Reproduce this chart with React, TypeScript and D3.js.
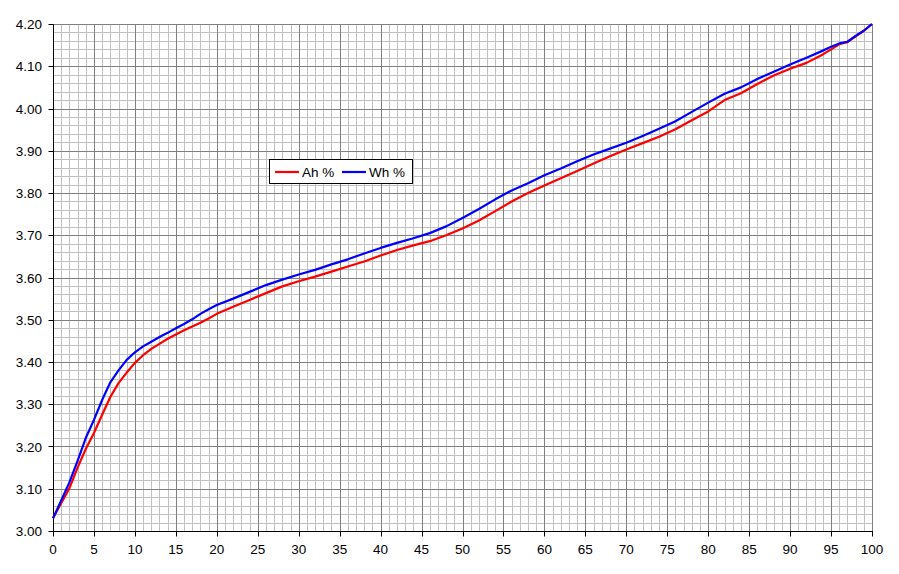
import React, { useEffect, useRef } from 'react';
import * as d3 from 'd3';

// state of charge (%) against cell voltage
const pct = [0, 1, 2, 3, 4, 5, 6, 7, 8, 9, 10, 11, 12, 13, 14, 15, 16, 17, 18, 19, 20, 22, 24, 26, 28, 30, 32, 34, 36, 38, 40, 42, 44, 46, 48, 50, 52, 54, 56, 58, 60, 62, 64, 66, 68, 70, 72, 74, 76, 78, 80, 82, 84, 86, 88, 90, 92, 94, 95, 96, 97, 98, 99, 100];

const ahVolts = [3.030, 3.066, 3.101, 3.150, 3.194, 3.232, 3.275, 3.317, 3.350, 3.375, 3.398, 3.416, 3.431, 3.443, 3.455, 3.465, 3.475, 3.484, 3.493, 3.503, 3.514, 3.531, 3.547, 3.563, 3.579, 3.591, 3.602, 3.614, 3.626, 3.638, 3.652, 3.665, 3.676, 3.686, 3.700, 3.716, 3.735, 3.757, 3.780, 3.800, 3.818, 3.835, 3.852, 3.870, 3.887, 3.903, 3.918, 3.933, 3.951, 3.972, 3.993, 4.020, 4.036, 4.058, 4.078, 4.094, 4.108, 4.128, 4.140, 4.152, 4.157, 4.171, 4.184, 4.200];

const whVolts = [3.030, 3.072, 3.115, 3.166, 3.220, 3.263, 3.310, 3.352, 3.380, 3.405, 3.423, 3.437, 3.448, 3.459, 3.469, 3.480, 3.490, 3.501, 3.514, 3.525, 3.535, 3.550, 3.566, 3.582, 3.595, 3.607, 3.618, 3.631, 3.643, 3.657, 3.670, 3.682, 3.693, 3.705, 3.721, 3.741, 3.762, 3.785, 3.806, 3.823, 3.842, 3.858, 3.875, 3.891, 3.905, 3.919, 3.935, 3.952, 3.970, 3.992, 4.014, 4.035, 4.050, 4.070, 4.087, 4.104, 4.120, 4.137, 4.146, 4.154, 4.158, 4.172, 4.184, 4.200];

const seriesNames = ['Ah %', 'Wh %'];
const seriesColors = ['#ff0000', '#0000ff'];

const xTicks = d3.range(0, 101, 5);
const yTicks = d3.range(0, 13).map(i => 3 + i * 0.1);

export default function App() {
  const ref = useRef<SVGSVGElement>(null);

  useEffect(() => {
    if (!ref.current) return;
    const svg = d3.select(ref.current);
    svg.selectAll('*').remove();

    const x = d3.scaleLinear().domain([0, 100]).range([53, 872]);
    const y = d3.scaleLinear().domain([3, 4.2]).range([531, 24]);
    const px = (v: number) => Math.round(x(v)) + 0.5;
    const py = (v: number) => Math.round(y(v)) + 0.5;

    const grid = svg.append('g');
    // minor grid
    d3.range(0, 101, 1).filter(v => v % 5 !== 0).forEach(v => {
      grid.append('line').attr('x1', px(v)).attr('x2', px(v)).attr('y1', 24).attr('y2', 531)
        .attr('stroke', '#c0c0c0');
    });
    d3.range(0, 61, 1).filter(v => v % 5 !== 0).forEach(i => {
      const v = 3 + i * 0.02;
      grid.append('line').attr('y1', py(v)).attr('y2', py(v)).attr('x1', 53).attr('x2', 872)
        .attr('stroke', '#c0c0c0');
    });
    // major grid
    xTicks.forEach(v => {
      grid.append('line').attr('x1', px(v)).attr('x2', px(v)).attr('y1', 24).attr('y2', 531)
        .attr('stroke', '#808080');
    });
    yTicks.forEach(v => {
      grid.append('line').attr('y1', py(v)).attr('y2', py(v)).attr('x1', 53).attr('x2', 873)
        .attr('stroke', '#808080');
    });

    // axes
    const axes = svg.append('g').attr('stroke', '#000');
    axes.append('line').attr('x1', px(0)).attr('x2', px(0)).attr('y1', py(4.2)).attr('y2', py(3));
    axes.append('line').attr('x1', px(0)).attr('x2', px(100) + 0.5).attr('y1', py(3)).attr('y2', py(3));
    yTicks.forEach(v => {
      axes.append('line').attr('x1', px(0) - 5).attr('x2', px(0)).attr('y1', py(v)).attr('y2', py(v));
    });
    xTicks.forEach(v => {
      axes.append('line').attr('x1', px(v)).attr('x2', px(v)).attr('y1', py(3)).attr('y2', py(3) + 5);
    });

    const labels = svg.append('g')
      .attr('font-family', 'Arial, "Liberation Sans", sans-serif')
      .attr('font-size', 13.5)
      .attr('fill', '#000');
    yTicks.forEach(v => {
      labels.append('text').attr('x', 42).attr('y', y(v) + 5).attr('text-anchor', 'end')
        .text(v.toFixed(2));
    });
    xTicks.forEach(v => {
      labels.append('text').attr('x', x(v)).attr('y', 554).attr('text-anchor', 'middle')
        .text(String(v));
    });

    // series
    const line = d3.line<number>().x((_, i) => x(pct[i])).y(d => y(d));
    [ahVolts, whVolts].forEach((vals, i) => {
      svg.append('path').attr('d', line(vals) as string)
        .attr('fill', 'none').attr('stroke', seriesColors[i]).attr('stroke-width', 2.2)
        .attr('stroke-linejoin', 'round');
    });

    // legend
    const lg = svg.append('g');
    lg.append('rect').attr('x', 269.5).attr('y', 159.5).attr('width', 143).attr('height', 24)
      .attr('fill', '#fff').attr('stroke', '#000');
    const lx = [275, 342];
    seriesNames.forEach((name, i) => {
      lg.append('line').attr('x1', lx[i]).attr('x2', lx[i] + 24).attr('y1', 172).attr('y2', 172)
        .attr('stroke', seriesColors[i]).attr('stroke-width', 2.2);
      lg.append('text').attr('x', lx[i] + 27).attr('y', 177)
        .attr('font-family', 'Arial, "Liberation Sans", sans-serif').attr('font-size', 13.5)
        .text(name);
    });
  }, []);

  return (
    <svg ref={ref} width={899} height={574}
      style={{ position: 'absolute', left: 0, top: 0, background: '#fff' }} />
  );
}
